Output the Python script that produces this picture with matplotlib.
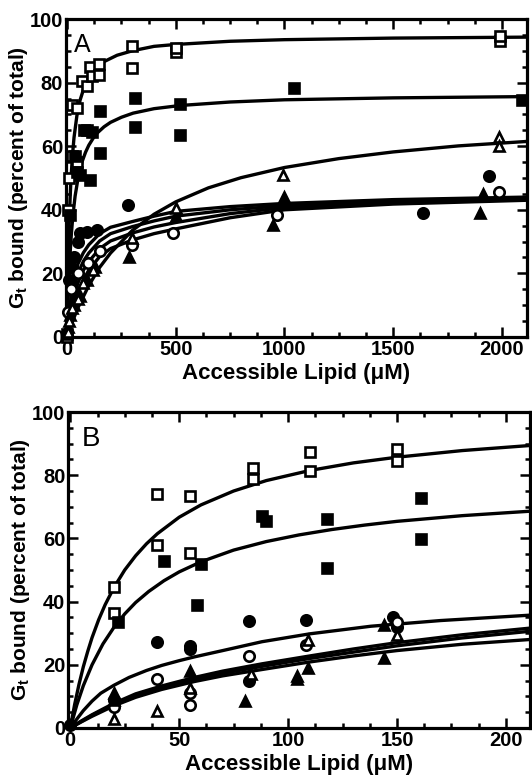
import matplotlib
matplotlib.use("Agg")
import matplotlib.pyplot as plt
from matplotlib.ticker import MultipleLocator

plt.rcParams["font.family"] = ["Liberation Sans", "DejaVu Sans"]
plt.rcParams["font.weight"] = "bold"
plt.rcParams["mathtext.fontset"] = "custom"
plt.rcParams["mathtext.rm"] = "Liberation Sans:bold"
plt.rcParams["mathtext.it"] = "Liberation Sans"
plt.rcParams["mathtext.bf"] = "Liberation Sans:bold"

# ---------------- Panel A data (accessible lipid, uM ; % bound) ----------------
a_open_sq_x = [0, 5, 10, 22, 22, 46, 47, 69, 90, 105, 115, 147, 147, 300, 300, 500, 500, 1990, 1990]
a_open_sq_y = [0, 40, 50, 73, 57, 55, 72, 80.5, 79, 85, 82, 86, 82.5, 91.5, 84.7, 89.5, 91, 93, 94.5]

a_fill_sq_x = [0, 14, 37, 46, 60, 80, 92, 106, 115, 152, 152, 313, 313, 520, 520, 1044, 2090]
a_fill_sq_y = [1, 38.5, 57, 52, 51, 65, 65, 49.5, 64.5, 71, 58, 75.3, 66, 73.4, 63.6, 78.4, 74.5]

a_fill_circ_x = [10, 20, 30, 50, 60, 90, 138, 281, 1638, 1941]
a_fill_circ_y = [18, 22, 25, 30, 32.7, 33, 33.7, 41.5, 39, 50.5]

a_open_circ_x = [5, 20, 50, 97, 150, 300, 488, 966, 1987]
a_open_circ_y = [8, 15, 20, 23.3, 27, 29, 32.7, 38.4, 45.7]

a_fill_tri_x = [5, 15, 30, 60, 90, 130, 285, 500, 948, 1000, 1900, 1914]
a_fill_tri_y = [3, 7, 10, 13, 18, 22, 25, 38, 35.3, 44, 39, 45]

a_open_tri_x = [3, 10, 25, 50, 75, 120, 300, 500, 994, 1987, 1987]
a_open_tri_y = [1.5, 5, 9, 12, 17, 21, 31, 40.5, 51, 63, 60]

# fitted curves
a_fit1_x = [0, 2, 4, 7, 10, 14, 18, 25, 32, 45, 60, 80, 100, 130, 170, 230, 300, 400, 500,
            750, 1000, 1500, 2115]
a_fit1_y = [0, 10.3, 18.5, 28.3, 35.8, 43.6, 49.6, 57.2, 62.7, 69.5, 74.5, 78.8, 81.5, 84.3,
            86.6, 88.6, 90, 91.4, 92, 93, 93.5, 94, 94.3]
a_fit2_x = [0, 3, 6, 10, 15, 20, 27, 37, 50, 69, 85, 100, 120, 138, 170, 200, 250, 304, 400,
            520, 750, 1000, 1500, 2115]
a_fit2_y = [0, 7.7, 13.9, 20.7, 27.4, 32.6, 38.3, 44.3, 49.7, 55.1, 58.1, 60.3, 62.5, 64.1,
            66.1, 67.5, 69.1, 70.4, 71.8, 72.8, 73.9, 74.6, 75.2, 75.6]
a_fit3_x = [0, 25, 50, 100, 150, 200, 300, 400, 500, 650, 800, 1000, 1250, 1500, 1800, 2115]
a_fit3_y = [0, 4.9, 9.2, 16.2, 21.9, 26.4, 33.5, 38.6, 42.5, 46.9, 50.1, 53.3, 56.1, 58.2,
            60.1, 61.5]
a_fit_lo_x = [0, 5, 10, 20, 35, 50, 75, 100, 150, 200, 300, 400, 500, 750, 1000, 1500, 2115]
a_fit4_y = [0, 5, 8, 13, 18.5, 23, 26.5, 29, 32.5, 34.5, 36.3, 38, 39.5, 41, 42, 43.2, 44]
a_fit5_y = [0, 3.8, 6.5, 11, 16, 20, 23.8, 26.4, 30.2, 32.5, 34.7, 36.5, 38, 40, 41.3, 42.7, 43.7]
a_fit6_y = [0, 2.8, 5, 9, 13.5, 17, 21, 23.7, 27.8, 30.2, 32.7, 34.6, 36, 38.8, 40.7, 42.3, 43.4]
a_fit7_y = [0, 2.2, 4, 7, 11, 14, 18, 21, 25.3, 27.8, 30.5, 32.5, 34, 37.5, 40, 41.8, 43]

# ---------------- Panel B data ----------------
b_open_sq_x = [20, 20, 40, 40, 55, 55, 84, 84, 110, 110, 150, 150]
b_open_sq_y = [44.5, 36.5, 74, 58, 73.4, 55.3, 82.4, 78.7, 87.2, 81.4, 88.3, 84.6]

b_fill_sq_x = [22, 43, 58, 60, 88, 90, 118, 118, 161, 161]
b_fill_sq_y = [33.5, 53, 38.8, 52, 67, 65.5, 66, 50.5, 72.8, 59.8]

b_fill_circ_x = [0, 20, 40, 55, 55, 82, 82, 108, 148, 150]
b_fill_circ_y = [1, 9, 27.3, 26, 25, 33.8, 15, 34.3, 35, 31.8]

b_open_circ_x = [20, 40, 55, 55, 82, 108, 150]
b_open_circ_y = [6.5, 15.5, 11, 7.4, 22.7, 26.2, 33.5]

b_fill_tri_x = [20, 20, 55, 80, 104, 104, 109, 144, 144]
b_fill_tri_y = [11, 9, 18, 8.5, 16.5, 15.5, 19, 32.7, 22]

b_open_tri_x = [20, 40, 55, 83, 109, 150]
b_open_tri_y = [2.8, 5.3, 12.5, 17, 27.8, 29.5]

b_fit1_x = [0, 2, 4, 6, 8, 10, 13, 16, 20, 25, 30, 35, 40, 50, 60, 75, 90, 110, 130, 150, 180, 211]
b_fit1_y = [0, 7.4, 13.8, 19.4, 24.2, 28.6, 34.2, 39, 44.4, 50, 54.5, 58.3, 61.5, 66.7, 70.6,
            75, 78.3, 81.5, 83.9, 85.7, 87.8, 89.4]
b_fit2_x = [0, 3, 6, 10, 15, 20, 25, 30, 36, 43, 50, 60, 75, 90, 105, 120, 135, 150, 180, 211]
b_fit2_y = [0, 7.3, 13.4, 20, 26.6, 31.8, 36.1, 39.7, 43.2, 46.6, 49.4, 52.6, 56.3, 59, 61.1,
            62.8, 64.2, 65.4, 67.2, 68.6]
b_fit3_x = [0, 3, 6, 10, 14, 20, 27, 35, 42, 50, 57, 70, 88, 110, 138, 170, 211]
b_fit3_y = [0, 2.8, 5.5, 8.5, 11, 13.5, 16, 18.2, 19.8, 21.3, 22.5, 24.5, 27.3, 29.8, 32.2, 34, 35.7]
b_fit_lo_x = [0, 5, 10, 20, 30, 42, 57, 70, 88, 110, 130, 150, 180, 211]
b_fit4_y = [0, 2.2, 4.2, 7.8, 10.8, 13.3, 16, 18, 20.3, 22.8, 25, 27, 29.5, 31.6]
b_fit5_y = [0, 2, 4, 7.4, 10.3, 12.8, 15.4, 17.3, 19.5, 22, 24, 26, 28.5, 30.6]
b_fit6_y = [0, 1.9, 3.7, 7, 9.7, 12.2, 14.7, 16.5, 18.5, 20.9, 22.8, 24.5, 26.5, 28]

MS = 7.5
MEW = 1.9
LW = 2.4


def draw_markers(ax, sets):
    for x, y, marker, filled in sets:
        ax.plot(x, y, linestyle="none", marker=marker, ms=MS, mew=MEW,
                mec="black", mfc="black" if filled else "white",
                clip_on=False, zorder=4)


def style_axes(ax, xmaj, xmin, xlim):
    ax.set_xlim(*xlim)
    ax.set_ylim(0, 100)
    ax.xaxis.set_major_locator(MultipleLocator(xmaj))
    ax.xaxis.set_minor_locator(MultipleLocator(xmin))
    ax.yaxis.set_major_locator(MultipleLocator(20))
    ax.yaxis.set_minor_locator(MultipleLocator(5))
    ax.tick_params(which="both", direction="in", top=True, right=True, width=1.8,
                   labelsize=14.5, pad=2)
    ax.tick_params(which="major", length=7)
    ax.tick_params(which="minor", length=3.5)
    for lab in ax.get_xticklabels() + ax.get_yticklabels():
        lab.set_fontweight("bold")
    for sp in ax.spines.values():
        sp.set_linewidth(2.3)
    ax.set_xlabel("Accessible Lipid (\u03bcM)", fontsize=16, fontweight="bold", labelpad=3)
    ax.set_ylabel("G$_{t}$ bound (percent of total)", fontsize=15, fontweight="bold", labelpad=0)


fig = plt.figure(figsize=(5.32, 7.79), dpi=100)

# Panel A
axA = fig.add_axes([0.124, 0.5674, 0.8665, 0.4082])
for y in [a_fit4_y, a_fit5_y, a_fit6_y, a_fit7_y]:
    axA.plot(a_fit_lo_x, y, color="black", lw=LW, zorder=3)
axA.plot(a_fit1_x, a_fit1_y, color="black", lw=LW, zorder=3)
axA.plot(a_fit2_x, a_fit2_y, color="black", lw=LW, zorder=3)
axA.plot(a_fit3_x, a_fit3_y, color="black", lw=LW, zorder=3)
draw_markers(axA, [
    (a_open_sq_x, a_open_sq_y, "s", False),
    (a_fill_sq_x, a_fill_sq_y, "s", True),
    (a_fill_circ_x, a_fill_circ_y, "o", True),
    (a_open_circ_x, a_open_circ_y, "o", False),
    (a_fill_tri_x, a_fill_tri_y, "^", True),
    (a_open_tri_x, a_open_tri_y, "^", False),
])
style_axes(axA, 500, 125, (-5, 2115))
axA.text(0.018, 0.955, "A", transform=axA.transAxes, fontsize=18,
         fontweight="normal", va="top", ha="left")

# Panel B
axB = fig.add_axes([0.128, 0.0655, 0.868, 0.4056])
for y in [b_fit4_y, b_fit5_y, b_fit6_y]:
    axB.plot(b_fit_lo_x, y, color="black", lw=LW, zorder=3)
axB.plot(b_fit1_x, b_fit1_y, color="black", lw=LW, zorder=3)
axB.plot(b_fit2_x, b_fit2_y, color="black", lw=LW, zorder=3)
axB.plot(b_fit3_x, b_fit3_y, color="black", lw=LW, zorder=3)
draw_markers(axB, [
    (b_open_sq_x, b_open_sq_y, "s", False),
    (b_fill_sq_x, b_fill_sq_y, "s", True),
    (b_fill_circ_x, b_fill_circ_y, "o", True),
    (b_open_circ_x, b_open_circ_y, "o", False),
    (b_fill_tri_x, b_fill_tri_y, "^", True),
    (b_open_tri_x, b_open_tri_y, "^", False),
])
style_axes(axB, 50, 12.5, (-1, 211))
axB.text(0.03, 0.955, "B", transform=axB.transAxes, fontsize=20,
         fontweight="normal", va="top", ha="left")

fig.savefig("out.png", dpi=100)
